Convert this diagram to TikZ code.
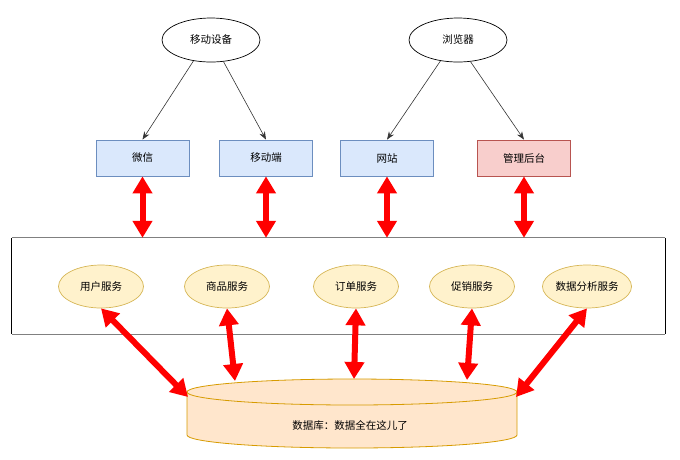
\documentclass[tikz,border=0pt]{standalone}
\usepackage{fontspec}
\setmainfont{Noto Sans CJK SC}
\usetikzlibrary{arrows.meta,shapes.geometric,calc}
\definecolor{blueF}{HTML}{DAE8FC}
\definecolor{blueD}{HTML}{6C8EBF}
\definecolor{redF}{HTML}{F8CECC}
\definecolor{redD}{HTML}{B85450}
\definecolor{yelF}{HTML}{FFF2CC}
\definecolor{yelD}{HTML}{D6B656}
\definecolor{orF}{HTML}{FFE6CC}
\definecolor{orD}{HTML}{D79B00}
\definecolor{lineC}{HTML}{333333}
\definecolor{frameG}{HTML}{808080}
\begin{document}
\begin{tikzpicture}[x=1pt,y=-1pt,
  every node/.style={font=\fontsize{10.5}{12}\selectfont, inner sep=0pt},
  client/.style={ellipse, draw=black, fill=white, line width=0.7pt, minimum width=98pt, minimum height=44pt},
  bluebox/.style={rectangle, draw=blueD, fill=blueF, line width=0.8pt, minimum width=93pt, minimum height=36pt},
  redbox/.style={rectangle, draw=redD, fill=redF, line width=0.8pt, minimum width=93pt, minimum height=36pt},
  svc/.style={ellipse, draw=yelD, fill=yelF, line width=0.7pt, minimum width=85pt, minimum height=43pt},
  thinarr/.style={draw=lineC, line width=0.6pt, -{Stealth[length=8pt,width=6pt]}},
  bigarr/.style={draw=red, line width=6pt, {Triangle[length=17pt,width=19pt]}-{Triangle[length=17pt,width=19pt]}, shorten <=0pt, shorten >=0pt}
]
\useasboundingbox (0,0) rectangle (680,459);

% clients
\node[client] (dev) at (211,40) {移动设备};
\node[client] (br)  at (458,40) {浏览器};

% boxes
\node[bluebox] (wx) at (142.5,158) {微信};
\node[bluebox] (mob) at (266,158) {移动端};
\node[bluebox] (web) at (387,158) {网站};
\node[redbox] (adm) at (524,158) {管理后台};

\draw[thinarr] (dev.230) -- (wx.north);
\draw[thinarr] (dev.300) -- (mob.north);
\draw[thinarr] (br.230) -- (web.north);
\draw[thinarr] (br.300) -- (adm.north);

% frame
\node[rectangle, minimum width=653pt, minimum height=96pt] (frame) at (338.5,286) {};
\draw[black, line width=0.8pt] (frame.north west) -- (frame.south west);
\draw[black, line width=0.8pt] (frame.north east) -- (frame.south east);
\draw[frameG, line width=1.2pt] (frame.north west) -- (frame.north east);
\draw[frameG, line width=1.2pt] (frame.south west) -- (frame.south east);

% services
\node[svc] (s1) at (101,286.5) {用户服务};
\node[svc] (s2) at (227,286.5) {商品服务};
\node[svc] (s3) at (356,286.5) {订单服务};
\node[svc] (s4) at (472,286.5) {促销服务};
\node[svc] (s5) at (587,286.5) {数据分析服务};

% database cylinder
\fill[orF] (187,392) -- (187,435) arc[start angle=180, end angle=360, x radius=165pt, y radius=13pt]
  -- (517,392) arc[start angle=0, end angle=180, x radius=165pt, y radius=13pt] -- cycle;
\draw[orD, line width=0.8pt] (187,392) -- (187,435) arc[start angle=180, end angle=360, x radius=165pt, y radius=13pt]
  -- (517,392);
\draw[orD, line width=0.8pt] (352,392) ellipse[x radius=165pt, y radius=13pt];
\node (db) at (350,425) {数据库：数据全在这儿了};

\coordinate (d1) at (188,397);
\coordinate (d2) at (235,381);
\coordinate (d3) at (354,379);
\coordinate (d4) at (467,380);
\coordinate (d5) at (516,397);

% red double arrows top
\draw[bigarr] (wx.south) -- (wx.south |- frame.north);
\draw[bigarr] (mob.south) -- (mob.south |- frame.north);
\draw[bigarr] (web.south) -- (web.south |- frame.north);
\draw[bigarr] (adm.south) -- (adm.south |- frame.north);

% red double arrows bottom
\draw[bigarr] (s1.south) -- (d1);
\draw[bigarr] (s2.south) -- (d2);
\draw[bigarr] (s3.south) -- (d3);
\draw[bigarr] (s4.south) -- (d4);
\draw[bigarr] (s5.south) -- (d5);
\end{tikzpicture}
\end{document}
